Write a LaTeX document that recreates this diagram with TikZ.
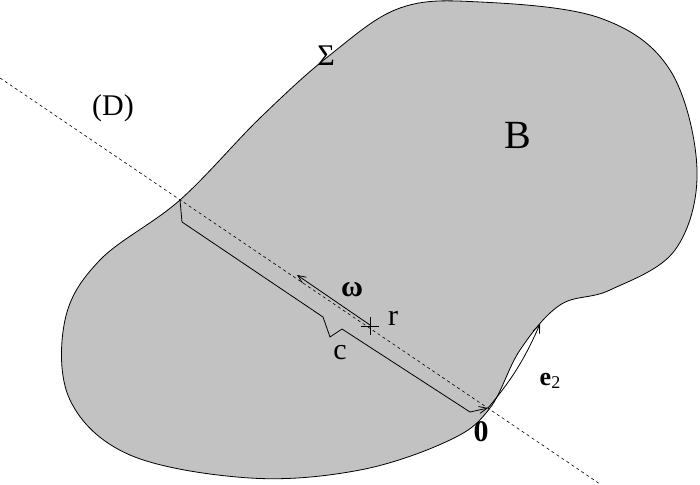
\documentclass[tikz,border=0pt]{standalone}
\usetikzlibrary{arrows.meta}
\usepackage{fontspec}
\setmainfont{Liberation Serif}
\begin{document}
\begin{tikzpicture}[x=1pt,y=-1pt,
  lbl/.style={inner sep=0pt,font=\fontsize{30}{34}\selectfont},
  arr/.style={-{Straight Barb[length=8pt,width=7pt]},line width=0.8pt}]
\useasboundingbox (0,0) rectangle (700,484);
\coordinate (P) at (180,200);
\draw[fill={rgb,255:red,194;green,194;blue,194},line width=0.8pt] plot[smooth cycle,tension=0.6] coordinates{
 (180,200) (260,118) (330,55) (400,8) (480,2) (600,18) (670,70) (697,170) (675,250) (610,290) (560,305) (520,350) (490,408) (450,440) (360,470) (250,478) (130,455) (70,400) (65,320) (100,260)};
\draw[dashed,line width=0.6pt,dash pattern=on 3pt off 3pt] (0,78) -- (600,484);
\coordinate (A) at (182,222);
\coordinate (N1) at (323,317);
\coordinate (N2) at (330,337);
\coordinate (N3) at (342,329);
\coordinate (E) at (470,412);
\coordinate (O) at (488,408);
\draw[line width=0.8pt] (P) -- (A) -- (N1) -- (N2) -- (N3) -- (E);
\draw[arr] (E) -- (O);
\coordinate (R) at (370,325);
\coordinate (W) at (297,275);
\draw[arr] (R) -- (W);
\draw[line width=0.7pt] (361,326) -- (379,326) (370,317) -- (370,335);
\coordinate (T) at (540,324);
\draw[arr] (O) to[bend right=8] (T);
\node[lbl] (sig) at (326,56) {Σ};
\node[lbl] (d) at (113,108) {(D)};
\node[lbl,font=\fontsize{40}{44}\selectfont] (b) at (518,135) {B};
\node[lbl] (w) at (352,290) {\textbf{ω}};
\node[lbl] (r) at (393,318) {r};
\node[lbl] (c) at (340,353) {c};
\node[lbl] (z) at (481,432) {\textbf{0}};
\node[lbl,font=\fontsize{26}{30}\selectfont] (e) at (550,381) {\textbf{e}\fontsize{18}{20}\selectfont\raisebox{-3pt}{2}};
\end{tikzpicture}
\end{document}
